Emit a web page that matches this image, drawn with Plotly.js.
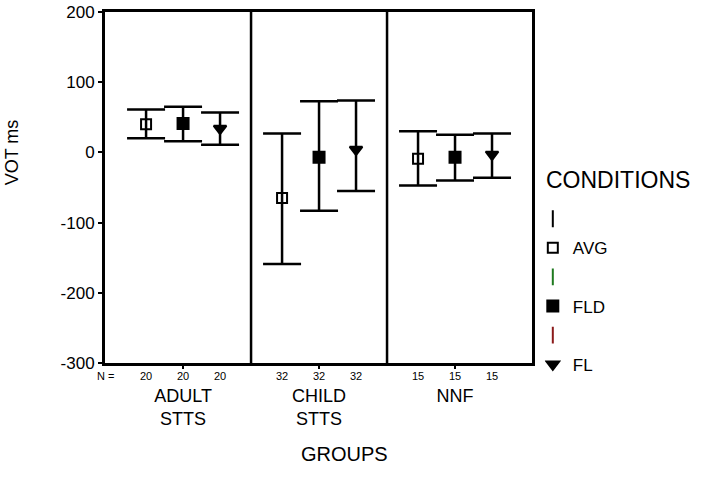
<!DOCTYPE html>
<html>
<head>
<meta charset="utf-8">
<script src="https://cdn.plot.ly/plotly-3.0.1.min.js"></script>
<style>html,body{margin:0;padding:0;background:#fff;}#chart{width:705px;height:490px;}</style>
</head>
<body>
<div id="chart"></div>
<script>
// ---- data ----
var groups = ['ADULT<br>STTS', 'CHILD<br>STTS', 'NNF'];
var conditions = ['AVG', 'FLD', 'FL'];
var avgMean  = [40, -65, -9];
var avgUpper = [61, 27, 30];
var avgLower = [20, -159, -47];
var fldMean  = [41, -7, -7];
var fldUpper = [65, 73, 25];
var fldLower = [16, -83, -40];
var flMean   = [34, 4, -3];
var flUpper  = [57, 74, 27];
var flLower  = [11, -55, -36];
var groupN   = [20, 32, 15];
var yTicks   = [-300, -200, -100, 0, 100, 200];

var FONT = 'Liberation Sans, Arial, sans-serif';
var symbols = {AVG: 'square-open', FLD: 'square', FL: 'triangle-down'};
var sizes = {AVG: 10, FLD: 11, FL: 11};
var legendBarColors = ['#000000', '#1f7a1f', '#8b1a1a'];

function diff(a, b) { return a.map(function (v, i) { return v - b[i]; }); }

var series = [
  {name: 'AVG', mean: avgMean, up: avgUpper, lo: avgLower},
  {name: 'FLD', mean: fldMean, up: fldUpper, lo: fldLower},
  {name: 'FL',  mean: flMean,  up: flUpper,  lo: flLower}
];

var traces = [];
series.forEach(function (s, k) {
  traces.push({
    type: 'scatter', mode: 'markers',
    x: groups, y: s.mean, name: s.name,
    offsetgroup: s.name,
    marker: {symbol: symbols[s.name], size: sizes[s.name], color: '#000',
             line: {color: '#000', width: 2}},
    error_y: {type: 'data', symmetric: false,
              array: diff(s.up, s.mean), arrayminus: diff(s.mean, s.lo),
              color: '#000', thickness: 2.5, width: 19},
    legendgroup: 'g' + s.name, legendrank: 2 * k + 2,
    hoverinfo: 'x+y'
  });
  // legend-only error-bar glyph row
  traces.push({
    type: 'scatter', mode: 'markers', x: [null], y: [null], name: ' ',
    xaxis: 'x2', yaxis: 'y2',
    marker: {symbol: 'line-ns-open', size: 12, color: legendBarColors[k],
             line: {color: legendBarColors[k], width: 2}},
    legendgroup: 'b' + s.name, legendrank: 2 * k + 1,
    hoverinfo: 'skip'
  });
});

var annotations = [];
annotations.push({xref: 'paper', yref: 'paper', x: 0, y: -0.037, text: 'N =',
  showarrow: false, xanchor: 'center', yanchor: 'middle', font: {family: FONT, size: 11, color: '#000'}});
var nOffsets = [-1, 0, 1];
groups.forEach(function (g, gi) {
  conditions.forEach(function (c, ci) {
    annotations.push({xref: 'x', yref: 'paper', x: g, y: -0.037, xshift: nOffsets[ci] * 37,
      text: String(groupN[gi]), showarrow: false, xanchor: 'center', yanchor: 'middle',
      font: {family: FONT, size: 11, color: '#000'}});
  });
});
annotations.push({xref: 'paper', yref: 'paper', x: -0.218, y: 0.6, text: 'VOT ms', textangle: -90,
  showarrow: false, xanchor: 'center', yanchor: 'middle', font: {family: FONT, size: 18, color: '#000'}});
annotations.push({xref: 'paper', yref: 'paper', x: 0.562, y: -0.258, text: 'GROUPS',
  showarrow: false, xanchor: 'center', yanchor: 'middle', font: {family: FONT, size: 20, color: '#000'}});
annotations.push({xref: 'paper', yref: 'paper', x: 1.029, y: 0.521, text: 'CONDITIONS',
  showarrow: false, xanchor: 'left', yanchor: 'middle', font: {family: FONT, size: 23, color: '#000'}});

var layout = {
  width: 705, height: 490,
  margin: {l: 105, r: 173, t: 12, b: 127},
  paper_bgcolor: '#fff', plot_bgcolor: '#fff',
  font: {family: FONT, color: '#000'},
  scattermode: 'group', scattergap: 0.184,
  showlegend: true,
  xaxis: {type: 'category', range: [-0.574, 2.566], showgrid: false, zeroline: false,
          showline: true, linecolor: '#000', linewidth: 3, mirror: true,
          ticks: 'outside', ticklen: 3, tickwidth: 2, tickcolor: '#000',
          ticklabelstandoff: 11, tickfont: {family: FONT, size: 18, color: '#000'}},
  yaxis: {range: [-300, 200], tickvals: yTicks, ticktext: yTicks.map(String),
          showgrid: false, zeroline: false,
          showline: true, linecolor: '#000', linewidth: 3, mirror: true,
          ticks: 'outside', ticklen: 4, tickwidth: 2, tickcolor: '#000',
          tickfont: {family: FONT, size: 17, color: '#000'}},
  xaxis2: {visible: false, overlaying: 'x', range: [0, 1]},
  yaxis2: {visible: false, overlaying: 'y', range: [0, 1]},
  shapes: [0.5, 1.5].map(function (v) {
    return {type: 'line', xref: 'x', yref: 'paper', x0: v, x1: v, y0: 0, y1: 1,
            line: {color: '#000', width: 2.5}};
  }),
  legend: {x: 1.03, xanchor: 'left', y: 0.461, yanchor: 'top',
           bgcolor: 'rgba(0,0,0,0)', borderwidth: 0,
           font: {family: FONT, size: 17, color: '#000'},
           traceorder: 'grouped', tracegroupgap: 4, indentation: -12},
  annotations: annotations
};

Plotly.newPlot('chart', traces, layout, {displayModeBar: false, staticPlot: true});
</script>
</body>
</html>
